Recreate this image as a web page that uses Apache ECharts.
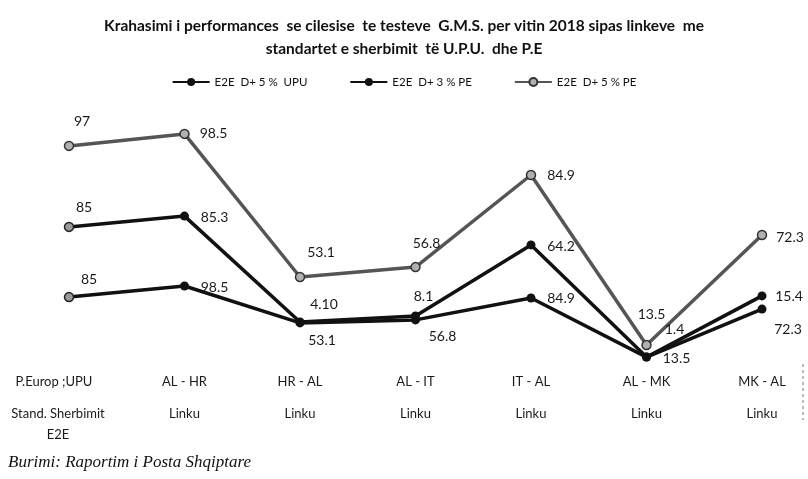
<!DOCTYPE html>
<html>
<head>
<meta charset="utf-8">
<script src="https://cdn.jsdelivr.net/npm/echarts@6/dist/echarts.min.js"></script>
<style>
  html, body { margin: 0; padding: 0; background: #fff; }
  #chart { width: 808px; height: 479px; }
</style>
</head>
<body>
<div id="chart"></div>
<script>
// categories (two rows under the plot)
const categories = ['P.Europ ;UPU', 'AL - HR', 'HR - AL', 'AL - IT', 'IT - AL', 'AL - MK', 'MK - AL']
const subCategories = ['Stand. Sherbimit\nE2E', 'Linku', 'Linku', 'Linku', 'Linku', 'Linku', 'Linku']
// plotted heights (the axis itself is not drawn)
const upuValues = [24.3, 28, 15.7, 16.7, 24, 4.3, 20.3]
const pe3Values = [47.7, 51.3, 16, 18, 41.7, 4.3, 24.7]
const pe5Values = [74.7, 78.7, 31, 34.3, 65, 8.3, 45]
// label texts as printed in the source
const upuLabels = ['85', '98.5', '53.1', '56.8', '84.9', '13.5', '72.3']
const pe3Labels = ['85', '85.3', '4.10', '8.1', '64.2', '1.4', '15.4']
const pe5Labels = ['97', '98.5', '53.1', '56.8', '84.9', '13.5', '72.3']

const font = 'Lato, "Open Sans", sans-serif'
// label centre offsets from each point
const upuOffsets = [[20, -18], [30, 1], [22, 18], [27, 17], [30, 0], [30, 1], [26, 20]]
const pe3Offsets = [[15, -19], [30, 1], [24, -18], [8, -20], [30, 2], [28, -28], [27, 1]]
const pe5Offsets = [[13, -24], [29, 0], [21, -25], [11, -24], [30, 0], [5, -31], [28, 2]]

const makeData = (values, labels, offsets, firstHollow) => values.map((v, i) => {
  const item = {
    value: v,
    label: { offset: offsets[i], formatter: labels[i] }
  }
  if (firstHollow && i === 0) {
    item.itemStyle = { color: '#9a9a9a', borderColor: '#222', borderWidth: 1.5 }
  }
  return item
})

const labelStyle = {
  show: true,
  position: 'inside',
  fontFamily: font,
  fontSize: 14,
  color: '#1a1a1a'
}

const chart = echarts.init(document.getElementById('chart'))
const option = {
  backgroundColor: '#fff',
  title: {
    text: 'Krahasimi i performances  se cilesise  te testeve  G.M.S. per vitin 2018 sipas linkeve  me\nstandartet e sherbimit  të U.P.U.  dhe P.E',
    left: 'center',
    top: 9,
    textStyle: {
      fontFamily: font,
      fontSize: 15.5,
      fontWeight: 'bold',
      color: '#111',
      lineHeight: 23
    }
  },
  legend: {
    top: 71,
    left: 'center',
    itemWidth: 37,
    itemHeight: 10,
    itemGap: 42,
    textStyle: { fontFamily: font, fontSize: 11.5, color: '#111' },
    data: ['E2E  D+ 5 %  UPU', 'E2E  D+ 3 % PE', 'E2E  D+ 5 % PE']
  },
  grid: {
    left: 69,
    right: 46,
    top: 100,
    bottom: 109
  },
  xAxis: [
    {
      type: 'category',
      boundaryGap: false,
      data: categories,
      axisLine: { show: false },
      axisTick: { show: false },
      axisLabel: {
        interval: 0,
        margin: 5,
        fontFamily: font,
        fontSize: 13,
        color: '#1a1a1a',
        formatter: (v, i) => (i === 0 ? '{a|' + v + '}' : v),
        rich: { a: { fontFamily: font, fontSize: 13, color: '#1a1a1a', padding: [0, 30, 0, 0] } }
      }
    },
    {
      type: 'category',
      position: 'bottom',
      offset: 28,
      boundaryGap: false,
      data: subCategories,
      axisLine: { show: false },
      axisTick: { show: false },
      axisLabel: {
        interval: 0,
        margin: 5,
        fontFamily: font,
        fontSize: 13,
        lineHeight: 21,
        color: '#1a1a1a',
        formatter: (v, i) => (i === 0 ? v.split('\n').map(s => '{a|' + s + '}').join('\n') : v),
        rich: { a: { fontFamily: font, fontSize: 13, lineHeight: 21, color: '#1a1a1a', padding: [0, 22, 0, 0] } }
      }
    }
  ],
  yAxis: {
    type: 'value',
    min: 0,
    max: 90,
    show: false
  },
  series: [
    {
      name: 'E2E  D+ 5 %  UPU',
      type: 'line',
      symbol: 'circle',
      symbolSize: 9,
      color: '#111',
      lineStyle: { width: 3.5, color: '#111' },
      itemStyle: { color: '#111' },
      label: labelStyle,
      z: 3,
      data: makeData(upuValues, upuLabels, upuOffsets, true)
    },
    {
      name: 'E2E  D+ 3 % PE',
      type: 'line',
      symbol: 'circle',
      symbolSize: 9,
      color: '#111',
      lineStyle: { width: 3.5, color: '#111' },
      itemStyle: { color: '#111' },
      label: labelStyle,
      z: 3,
      data: makeData(pe3Values, pe3Labels, pe3Offsets, true)
    },
    {
      name: 'E2E  D+ 5 % PE',
      type: 'line',
      symbol: 'circle',
      symbolSize: 9,
      color: '#666',
      lineStyle: { width: 3.5, color: '#555' },
      itemStyle: { color: '#b0b0b0', borderColor: '#333', borderWidth: 1.5 },
      label: labelStyle,
      z: 2,
      data: makeData(pe5Values, pe5Labels, pe5Offsets, false)
    }
  ],
  graphic: [
    {
      type: 'text',
      left: 8,
      top: 454,
      style: {
        text: 'Burimi: Raportim i Posta Shqiptare',
        fontFamily: '"Liberation Serif", serif',
        fontStyle: 'italic',
        fontSize: 17,
        fill: '#111'
      }
    },
    {
      type: 'line',
      shape: { x1: 803, y1: 364, x2: 803, y2: 420 },
      style: { stroke: '#777', lineWidth: 1, lineDash: [3, 3] }
    }
  ]
}
option && chart.setOption(option)
window.addEventListener('resize', () => chart.resize())
</script>
</body>
</html>
